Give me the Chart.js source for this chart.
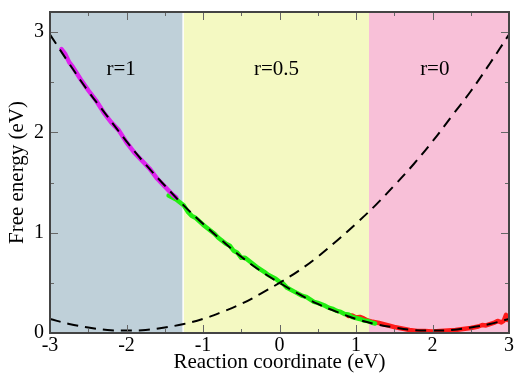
<!DOCTYPE html>
<html lang="en">
<head>
    <meta charset="UTF-8">
    <title>Free energy profile</title>
    <style>
        * { margin: 0; padding: 0; box-sizing: border-box; }
        body { background: #fff; }
        #wrap { width: 514px; height: 373px; }
    </style>
    <script src="https://cdn.jsdelivr.net/npm/chart.js"></script>
</head>
<body>
    <div id="wrap"><canvas id="chart"></canvas></div>

    <script>
        // ticks
        const xTicks = [-3, -2.5, -2, -1.5, -1, -0.5, 0, 0.5, 1, 1.5, 2, 2.5, 3];
        const yTicks = [0, 0.5, 1, 1.5, 2, 2.5, 3];

        // shaded windows (r values)
        const regionEdges = [-3, -1.26, 1.17, 3];
        const regionLabels = ['r=1', 'r=0.5', 'r=0'];
        const regionLabelX = [-2.07, -0.04, 2.03];
        const regionColors = ['#bfd0d9', '#f4f9c2', '#f8c0d8'];

        // dashed reference parabolas
        const curveX = [-3, -2.75, -2.5, -2.25, -2, -1.75, -1.5, -1.25, -1, -0.75, -0.5, -0.25,
                        0, 0.25, 0.5, 0.75, 1, 1.25, 1.5, 1.75, 2, 2.25, 2.5, 2.75, 3];
        const curveRight = [2.975, 2.687, 2.41, 2.16, 1.91, 1.68, 1.47, 1.27, 1.09, 0.92, 0.76, 0.62,
                            0.50, 0.39, 0.29, 0.21, 0.14, 0.09, 0.055, 0.03, 0.025, 0.03, 0.055, 0.09, 0.14];
        const curveLeft = [0.14, 0.09, 0.055, 0.03, 0.025, 0.03, 0.055, 0.09, 0.14, 0.21, 0.29, 0.39,
                           0.50, 0.62, 0.76, 0.92, 1.09, 1.27, 1.47, 1.68, 1.91, 2.16, 2.41, 2.687, 2.975];

        // simulation data, r=1
        const magentaX = [-2.85, -2.8, -2.75, -2.7, -2.6, -2.5, -2.4, -2.3, -2.2, -2.1, -2.0, -1.9, -1.8, -1.7, -1.6, -1.5, -1.4, -1.35];
        const magentaY = [2.83, 2.78, 2.70, 2.65, 2.53, 2.42, 2.32, 2.20, 2.10, 2.02, 1.90, 1.80, 1.72, 1.64, 1.54, 1.46, 1.38, 1.35];

        // r=0.5
        const greenX = [-1.45, -1.4, -1.35, -1.3, -1.25, -1.2, -1.15, -1.1, -1.0, -0.95, -0.9, -0.85, -0.8, -0.7, -0.65,
                        -0.6, -0.55, -0.5, -0.45, -0.4, -0.3, -0.2, -0.15, -0.1, -0.05, 0.0, 0.05, 0.1, 0.2, 0.3, 0.35,
                        0.4, 0.45, 0.5, 0.55, 0.6, 0.65, 0.7, 0.75, 0.8, 0.85, 0.9, 0.95, 1.0, 1.05, 1.1, 1.15, 1.2, 1.25];
        const greenY = [1.37, 1.35, 1.33, 1.30, 1.27, 1.21, 1.17, 1.15, 1.08, 1.05, 1.02, 0.99, 0.95, 0.89, 0.87,
                        0.82, 0.80, 0.75, 0.75, 0.72, 0.66, 0.61, 0.58, 0.56, 0.54, 0.51, 0.49, 0.45, 0.41, 0.37, 0.36,
                        0.335, 0.31, 0.30, 0.285, 0.27, 0.25, 0.24, 0.22, 0.21, 0.19, 0.185, 0.16, 0.15, 0.14, 0.125, 0.12, 0.105, 0.095];

        // r=0
        const redX = [0.9, 0.95, 1.0, 1.05, 1.1, 1.15, 1.2, 1.3, 1.4, 1.5, 1.6, 1.7, 1.8, 1.9, 2.0,
                      2.1, 2.2, 2.3, 2.4, 2.5, 2.6, 2.65, 2.7, 2.8, 2.85, 2.9, 2.93, 2.96, 2.98, 3.0];
        const redY = [0.17, 0.175, 0.155, 0.16, 0.145, 0.125, 0.115, 0.10, 0.08, 0.06, 0.045, 0.03, 0.02, 0.02, 0.015,
                      0.02, 0.025, 0.03, 0.04, 0.05, 0.065, 0.08, 0.075, 0.10, 0.12, 0.105, 0.12, 0.18, 0.13, 0.15];

        const pts = (xs, ys) => xs.map((x, i) => ({ x: x, y: ys[i] }));

        Chart.defaults.font.family = '"Liberation Serif", "Times New Roman", serif';
        Chart.defaults.color = '#000';

        const serif20 = { size: 20, lineHeight: 1 };
        const serif21 = { size: 21, lineHeight: 1 };

        // background windows + labels
        const regionsPlugin = {
            id: 'regions',
            beforeDraw(chart) {
                const { ctx, chartArea, scales } = chart;
                ctx.save();
                for (let i = 0; i < regionColors.length; i++) {
                    const x0 = scales.x.getPixelForValue(regionEdges[i]);
                    const x1 = scales.x.getPixelForValue(regionEdges[i + 1]);
                    ctx.fillStyle = regionColors[i];
                    ctx.fillRect(x0, chartArea.top, x1 - x0, chartArea.bottom - chartArea.top);
                }
                // thin white seam between first two windows
                const xs = scales.x.getPixelForValue(regionEdges[1]);
                ctx.strokeStyle = '#ffffff';
                ctx.lineWidth = 1.5;
                ctx.beginPath();
                ctx.moveTo(xs, chartArea.top);
                ctx.lineTo(xs, chartArea.bottom);
                ctx.stroke();

                ctx.fillStyle = '#000';
                ctx.font = '21px "Liberation Serif", serif';
                ctx.textAlign = 'center';
                ctx.textBaseline = 'middle';
                const ly = scales.y.getPixelForValue(2.63);
                regionLabels.forEach((t, i) => {
                    ctx.fillText(t, scales.x.getPixelForValue(regionLabelX[i]), ly);
                });
                ctx.restore();
            },
            afterDraw(chart) {
                const { ctx, chartArea: a, scales } = chart;
                ctx.save();
                // inward ticks on all four sides
                ctx.strokeStyle = '#666';
                ctx.lineWidth = 1;
                ctx.beginPath();
                xTicks.forEach(v => {
                    const px = Math.round(scales.x.getPixelForValue(v)) + 0.5;
                    const len = Number.isInteger(v) ? 8 : 4;
                    ctx.moveTo(px, a.bottom); ctx.lineTo(px, a.bottom - len);
                    ctx.moveTo(px, a.top); ctx.lineTo(px, a.top + len);
                });
                yTicks.forEach(v => {
                    const py = Math.round(scales.y.getPixelForValue(v)) + 0.5;
                    const len = Number.isInteger(v) ? 8 : 4;
                    ctx.moveTo(a.left, py); ctx.lineTo(a.left + len, py);
                    ctx.moveTo(a.right, py); ctx.lineTo(a.right - len, py);
                });
                ctx.stroke();
                // frame
                ctx.strokeStyle = '#444';
                ctx.lineWidth = 2;
                ctx.strokeRect(a.left, a.top, a.right - a.left, a.bottom - a.top);
                ctx.restore();
            }
        };

        const dataLine = { borderWidth: 4.5, tension: 0, borderJoinStyle: 'round', borderCapStyle: 'round' };

        new Chart(document.getElementById('chart'), {
            type: 'line',
            data: {
                datasets: [
                    { data: pts(curveX, curveRight), borderColor: '#000', borderWidth: 2, borderDash: [11, 7], tension: 0.4, order: 0 },
                    { data: pts(curveX, curveLeft), borderColor: '#000', borderWidth: 2, borderDash: [11, 7], tension: 0.4, order: 0 },
                    { ...dataLine, data: pts(magentaX, magentaY), borderColor: '#dd22ee', order: 1 },
                    { ...dataLine, data: pts(greenX, greenY), borderColor: '#22ee11', order: 2 },
                    { ...dataLine, data: pts(redX, redY), borderColor: '#ff1a1a', order: 3 }
                ]
            },
            options: {
                responsive: true,
                maintainAspectRatio: false,
                animation: false,
                layout: { padding: 0 },
                elements: { point: { radius: 0 } },
                plugins: { legend: { display: false }, tooltip: { enabled: false } },
                scales: {
                    x: {
                        type: 'linear',
                        min: -3,
                        max: 3,
                        grid: { display: false, drawTicks: false },
                        border: { display: false },
                        afterFit: s => { s.height = 40; s.paddingRight = 5; },
                        afterBuildTicks: s => { s.ticks = xTicks.map(v => ({ value: v })); },
                        ticks: {
                            autoSkip: false,
                            maxRotation: 0,
                            padding: 3,
                            font: serif20,
                            callback: v => Number.isInteger(v) ? String(v) : ''
                        },
                        title: { display: true, text: 'Reaction coordinate (eV)', font: serif21, padding: { top: 0, bottom: 0 } }
                    },
                    y: {
                        type: 'linear',
                        min: 0,
                        max: 3.2,
                        grid: { display: false, drawTicks: false },
                        border: { display: false },
                        afterFit: s => { s.width = 50; s.paddingTop = 12; s.paddingBottom = 0; },
                        afterBuildTicks: s => { s.ticks = yTicks.map(v => ({ value: v })); },
                        ticks: {
                            autoSkip: false,
                            padding: 6,
                            font: serif20,
                            callback: v => Number.isInteger(v) ? String(v) : ''
                        },
                        title: { display: true, text: 'Free energy (eV)', font: serif21, padding: { top: 7, bottom: 0 } }
                    }
                }
            },
            plugins: [regionsPlugin]
        });
    </script>
</body>
</html>
